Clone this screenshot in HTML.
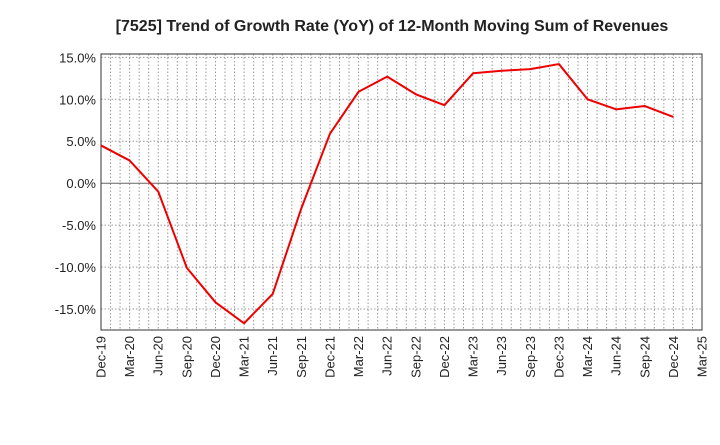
<!DOCTYPE html>
<html><head><meta charset="utf-8"><style>
body{margin:0;background:#fff;font-family:"Liberation Sans",sans-serif;}
</style></head><body>
<svg id="chart" width="720" height="440" xmlns="http://www.w3.org/2000/svg">
<text x="392" y="31" text-anchor="middle" font-size="16" font-weight="bold" fill="#222">[7525]  Trend of Growth Rate (YoY) of 12-Month Moving Sum of Revenues</text>
<g id="grid"></g><g id="axes"></g><g id="series"></g>
</svg>
<script>
const categories=["Dec-19","Mar-20","Jun-20","Sep-20","Dec-20","Mar-21","Jun-21","Sep-21","Dec-21","Mar-22","Jun-22","Sep-22","Dec-22","Mar-23","Jun-23","Sep-23","Dec-23","Mar-24","Jun-24","Sep-24","Dec-24","Mar-25"];
const values=[4.5,2.7,-1.0,-10.1,-14.2,-16.7,-13.2,-3.0,5.9,10.9,12.7,10.6,9.3,13.1,13.4,13.6,14.2,10.0,8.8,9.2,7.9];
const yTicks=[15,10,5,0,-5,-10,-15];
const yTickLabels=["15.0%","10.0%","5.0%","0.0%","-5.0%","-10.0%","-15.0%"];
const NS="http://www.w3.org/2000/svg";
const L=101,R=702,T=54,B=330,yMax=15.4,yMin=-17.5;
const xs=i=>L+(R-L)*i/(categories.length-1);
const ys=v=>T+(yMax-v)/(yMax-yMin)*(B-T);
function mk(p,tag,a){const e=document.createElementNS(NS,tag);for(const k in a)e.setAttribute(k,a[k]);p.appendChild(e);return e;}
const g=document.getElementById('grid'),ax=document.getElementById('axes'),s=document.getElementById('series');
const nm=(categories.length-1)*3;
for(let m=1;m<nm;m++){const x=L+(R-L)*m/nm;const e=mk(g,'line',{x1:x,x2:x,y1:T,y2:B,stroke:'#999','stroke-width':1,'stroke-dasharray':'1.5,2'});

}
yTicks.forEach(v=>{const y=ys(v);const e=mk(g,'line',{x1:L,x2:R,y1:y,y2:y,stroke:v===0?'#666':'#999','stroke-width':1,'stroke-dasharray':v===0?'none':'1.5,2'});

});
const fr=mk(ax,'rect',{x:L,y:T,width:R-L,height:B-T,fill:'none',stroke:'#333','stroke-width':1});


yTicks.forEach((v,i)=>{const t=mk(ax,'text',{x:L-5,y:ys(v)+5,'text-anchor':'end','font-size':13,fill:'#222'});t.textContent=yTickLabels[i];

});
categories.forEach((c,i)=>{const x=xs(i);const t=mk(ax,'text',{transform:`translate(${x+4.5},${B+6}) rotate(-90)`,'text-anchor':'end','font-size':13,fill:'#222'});t.textContent=c;

});
const p=mk(s,'polyline',{points:values.map((v,i)=>xs(i)+','+ys(v)).join(' '),fill:'none',stroke:'#e00','stroke-width':2,'stroke-linejoin':'round'});


</script>
</body></html>
